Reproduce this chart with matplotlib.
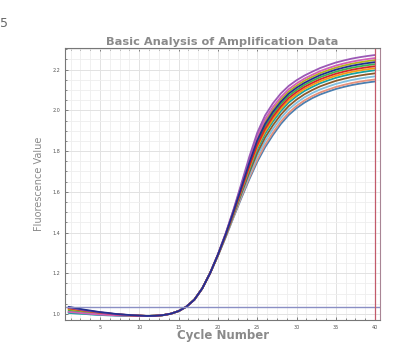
import matplotlib
matplotlib.use("Agg")
import matplotlib.pyplot as plt
from matplotlib.ticker import MultipleLocator

# cycle index 1..40
cycles = list(range(1, 41))

# fluorescence per well
well_01 = [1.032, 1.025, 1.018, 1.013, 1.008, 1.003, 0.999, 0.996, 0.994, 0.992,
           0.990, 0.991, 0.994, 1.001, 1.014, 1.036, 1.070, 1.125, 1.200, 1.293,
           1.398, 1.515, 1.643, 1.773, 1.890, 1.975, 2.035, 2.083, 2.120, 2.148,
           2.171, 2.190, 2.208, 2.222, 2.235, 2.245, 2.254, 2.261, 2.267, 2.272]
well_02 = [1.010, 1.007, 1.003, 1.000, 0.997, 0.995, 0.993, 0.992, 0.991, 0.990,
           0.990, 0.991, 0.994, 1.001, 1.014, 1.036, 1.070, 1.125, 1.200, 1.292,
           1.395, 1.511, 1.634, 1.760, 1.874, 1.957, 2.017, 2.065, 2.104, 2.132,
           2.156, 2.175, 2.193, 2.207, 2.220, 2.230, 2.239, 2.246, 2.252, 2.257]
well_03 = [1.025, 1.019, 1.014, 1.009, 1.004, 1.001, 0.997, 0.995, 0.993, 0.991,
           0.990, 0.991, 0.994, 1.001, 1.014, 1.036, 1.070, 1.125, 1.200, 1.291,
           1.394, 1.508, 1.629, 1.751, 1.863, 1.945, 2.005, 2.054, 2.093, 2.121,
           2.146, 2.165, 2.183, 2.197, 2.210, 2.220, 2.229, 2.236, 2.242, 2.247]
well_04 = [1.035, 1.028, 1.021, 1.015, 1.009, 1.005, 1.000, 0.997, 0.994, 0.992,
           0.990, 0.991, 0.994, 1.001, 1.014, 1.036, 1.070, 1.125, 1.200, 1.291,
           1.392, 1.505, 1.623, 1.743, 1.852, 1.933, 1.993, 2.042, 2.082, 2.111,
           2.135, 2.155, 2.173, 2.187, 2.200, 2.210, 2.219, 2.226, 2.232, 2.237]
well_05 = [1.015, 1.011, 1.007, 1.003, 1.000, 0.997, 0.995, 0.993, 0.991, 0.991,
           0.990, 0.991, 0.994, 1.001, 1.014, 1.036, 1.070, 1.125, 1.200, 1.290,
           1.391, 1.502, 1.618, 1.734, 1.841, 1.921, 1.981, 2.031, 2.071, 2.100,
           2.125, 2.145, 2.163, 2.177, 2.190, 2.200, 2.209, 2.216, 2.222, 2.227]
well_06 = [1.028, 1.022, 1.016, 1.011, 1.006, 1.002, 0.998, 0.996, 0.993, 0.992,
           0.990, 0.991, 0.994, 1.001, 1.014, 1.036, 1.070, 1.125, 1.200, 1.290,
           1.389, 1.499, 1.612, 1.726, 1.830, 1.909, 1.969, 2.019, 2.060, 2.090,
           2.115, 2.135, 2.153, 2.167, 2.180, 2.190, 2.199, 2.206, 2.212, 2.217]
well_07 = [1.020, 1.015, 1.010, 1.006, 1.002, 0.999, 0.996, 0.994, 0.992, 0.991,
           0.990, 0.991, 0.994, 1.001, 1.014, 1.036, 1.070, 1.125, 1.200, 1.289,
           1.388, 1.496, 1.607, 1.717, 1.819, 1.897, 1.957, 2.008, 2.049, 2.079,
           2.105, 2.125, 2.143, 2.157, 2.170, 2.180, 2.189, 2.196, 2.202, 2.207]
well_08 = [1.005, 1.002, 1.000, 0.997, 0.995, 0.993, 0.992, 0.991, 0.990, 0.990,
           0.990, 0.991, 0.994, 1.001, 1.014, 1.036, 1.070, 1.125, 1.200, 1.289,
           1.386, 1.493, 1.601, 1.709, 1.808, 1.885, 1.945, 1.996, 2.038, 2.069,
           2.095, 2.115, 2.133, 2.147, 2.160, 2.170, 2.179, 2.186, 2.192, 2.197]
well_09 = [1.030, 1.024, 1.017, 1.012, 1.007, 1.003, 0.999, 0.996, 0.993, 0.992,
           0.990, 0.991, 0.994, 1.001, 1.014, 1.036, 1.070, 1.125, 1.200, 1.288,
           1.384, 1.488, 1.593, 1.696, 1.791, 1.867, 1.927, 1.979, 2.021, 2.053,
           2.079, 2.100, 2.118, 2.132, 2.145, 2.155, 2.164, 2.171, 2.177, 2.182]
well_10 = [1.012, 1.008, 1.004, 1.001, 0.998, 0.996, 0.994, 0.992, 0.991, 0.990,
           0.990, 0.991, 0.994, 1.001, 1.014, 1.036, 1.070, 1.125, 1.200, 1.287,
           1.382, 1.484, 1.585, 1.683, 1.775, 1.849, 1.909, 1.962, 2.005, 2.037,
           2.064, 2.085, 2.103, 2.117, 2.130, 2.140, 2.149, 2.156, 2.162, 2.167]
well_11 = [1.023, 1.018, 1.012, 1.008, 1.003, 1.000, 0.997, 0.995, 0.992, 0.991,
           0.990, 0.991, 0.994, 1.001, 1.014, 1.036, 1.070, 1.125, 1.200, 1.287,
           1.380, 1.479, 1.577, 1.671, 1.758, 1.831, 1.891, 1.945, 1.988, 2.022,
           2.049, 2.070, 2.088, 2.102, 2.115, 2.125, 2.134, 2.141, 2.147, 2.152]
well_12 = [1.008, 1.005, 1.002, 0.999, 0.996, 0.995, 0.993, 0.992, 0.990, 0.990,
           0.990, 0.991, 0.994, 1.001, 1.014, 1.036, 1.070, 1.125, 1.200, 1.286,
           1.378, 1.476, 1.571, 1.662, 1.747, 1.819, 1.879, 1.933, 1.977, 2.011,
           2.038, 2.060, 2.078, 2.092, 2.105, 2.115, 2.124, 2.131, 2.137, 2.142]

threshold = 1.035
last_cycle = 40

wells = [well_12, well_11, well_10, well_09, well_08, well_07,
         well_05, well_03, well_02, well_06, well_01, well_04]
colors = ["#4a7fb0", "#e8927c", "#7fbfe0", "#8c5a2b", "#17a2a2", "#f39c12",
          "#3cb44b", "#b5b31b", "#d35fb7", "#d62728", "#9b59b6", "#232f8f"]

fig = plt.figure(figsize=(4.04, 3.60), dpi=100)
ax = fig.add_axes([0.161, 0.111, 0.780, 0.756])

for w, c in zip(wells, colors):
        ax.plot(cycles, w, color=c, lw=1.3, solid_capstyle="round")

ax.axhline(threshold, color="#8a8fc4", lw=1.0)
ax.axvline(last_cycle, color="#c25a6a", lw=0.9)

ax.set_xlim(0.55, 40.64)
ax.set_ylim(0.97, 2.307)
ax.xaxis.set_minor_locator(MultipleLocator(1.25))
ax.yaxis.set_minor_locator(MultipleLocator(0.05))
ax.set_xticks([5, 10, 15, 20, 25, 30, 35, 40])
ax.set_yticks([1.0, 1.2, 1.4, 1.6, 1.8, 2.0, 2.2])
ax.grid(which="major", color="#e2e2e2", lw=0.7)
ax.grid(which="minor", color="#eeeeee", lw=0.6)
ax.set_axisbelow(True)
ax.tick_params(which="both", direction="in", top=True, right=False,
               labelsize=3.5, colors="#555555", length=2.5, width=0.5)
ax.tick_params(which="minor", length=1.5)

for s in ax.spines.values():
        s.set_color("#777777")
        s.set_linewidth(0.8)
ax.spines["right"].set_color("#a98595")

ax.set_title("Basic Analysis of Amplification Data", fontsize=8.2,
             fontweight="bold", color="#8a8a8a", pad=2)
ax.set_xlabel("Cycle Number", fontsize=8.5, fontweight="bold",
              color="#8a8a8a", labelpad=-1)
ax.set_ylabel("Fluorescence Value", fontsize=7, color="#8a8a8a",
              labelpad=6, family="Liberation Sans Narrow")

fig.text(0.0, 0.925, "5", fontsize=9, color="#666666")

fig.savefig("out.png", dpi=100)
